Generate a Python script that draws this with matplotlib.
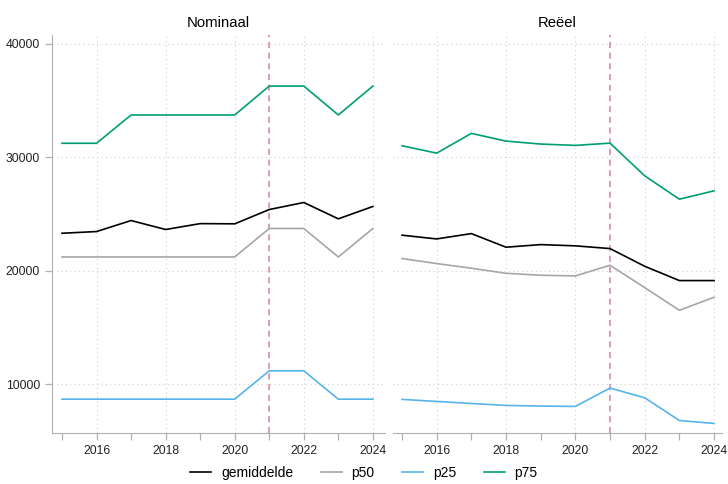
import numpy as np
import matplotlib
matplotlib.use("Agg")
import matplotlib.pyplot as plt
from matplotlib.ticker import MultipleLocator

plt.rcParams['font.family'] = ['Liberation Sans', 'DejaVu Sans']

# Data
jaren = [2015, 2016, 2017, 2018, 2019, 2020, 2021, 2022, 2023, 2024]

nom_gem = [23320, 23470, 24440, 23650, 24170, 24150, 25410, 26030, 24590, 25680]
nom_p50 = [21230, 21230, 21230, 21230, 21230, 21230, 23740, 23740, 21230, 23740]
nom_p25 = [8700, 8700, 8700, 8700, 8700, 8700, 11200, 11200, 8700, 8700]
nom_p75 = [31250, 31250, 33740, 33740, 33740, 33740, 36290, 36290, 33740, 36290]

reel_gem = [23150, 22820, 23290, 22090, 22320, 22210, 21970, 20410, 19150, 19150]
reel_p50 = [21090, 20650, 20240, 19790, 19620, 19560, 20500, 18530, 16530, 17680]
reel_p25 = [8680, 8500, 8320, 8150, 8090, 8060, 9680, 8820, 6820, 6560]
reel_p75 = [31030, 30380, 32120, 31440, 31180, 31060, 31260, 28380, 26320, 27060]

titels = ["Nominaal", "Reëel"]
reeksen = ["gemiddelde", "p50", "p25", "p75"]
kleuren = ["#000000", "#a6a6a6", "#56b4e9", "#009e73"]
breuk_jaar = 2021

fig = plt.figure(figsize=(7.28, 4.84), dpi=100)
ax1 = fig.add_axes([0.0714, 0.1054, 0.4574, 0.8223])
ax2 = fig.add_axes([0.5398, 0.1054, 0.4520, 0.8223], sharey=ax1)

panelen = [
    (ax1, [nom_gem, nom_p50, nom_p25, nom_p75], (2014.71, 2024.35)),
    (ax2, [reel_gem, reel_p50, reel_p25, reel_p75], (2014.74, 2024.23)),
]

grijs = "#b0b0b0"
for i, (ax, data, xl) in enumerate(panelen):
    for naam, kleur, y in zip(reeksen, kleuren, data):
        ax.plot(jaren, y, color=kleur, lw=1.2, label=naam, zorder=3)
    ax.axvline(breuk_jaar, color="#d67fac", lw=1.1, ls=(0, (4, 3)), zorder=2)
    ax.set_xlim(*xl)
    ax.set_ylim(5720, 40790)
    ax.xaxis.set_major_locator(MultipleLocator(2))
    ax.xaxis.set_minor_locator(MultipleLocator(1))
    ax.yaxis.set_major_locator(MultipleLocator(10000))
    ax.grid(True, which="major", color="#cfcfcf", ls=(0, (1, 3)), lw=0.8)
    ax.set_title(titels[i], fontsize=10.7, pad=6)
    for s in ["top", "right"]:
        ax.spines[s].set_visible(False)
    ax.spines["bottom"].set_color(grijs)
    ax.spines["left"].set_color(grijs)
    ax.tick_params(axis="both", which="both", colors=grijs, labelcolor="#222222",
                   labelsize=8.7, length=5, width=0.9)
    ax.tick_params(axis="x", which="minor", length=5)
    ax.set_facecolor("white")

ax2.spines["left"].set_visible(False)
ax2.tick_params(axis="y", which="both", left=False, labelleft=False)

handles, labels = ax1.get_legend_handles_labels()
fig.legend(handles, labels, loc="lower center", ncol=4, frameon=False,
           fontsize=10, bbox_to_anchor=(0.5, -0.018), handlelength=1.5,
           handletextpad=0.7, columnspacing=2.0)

fig.savefig("out.png", dpi=100)
